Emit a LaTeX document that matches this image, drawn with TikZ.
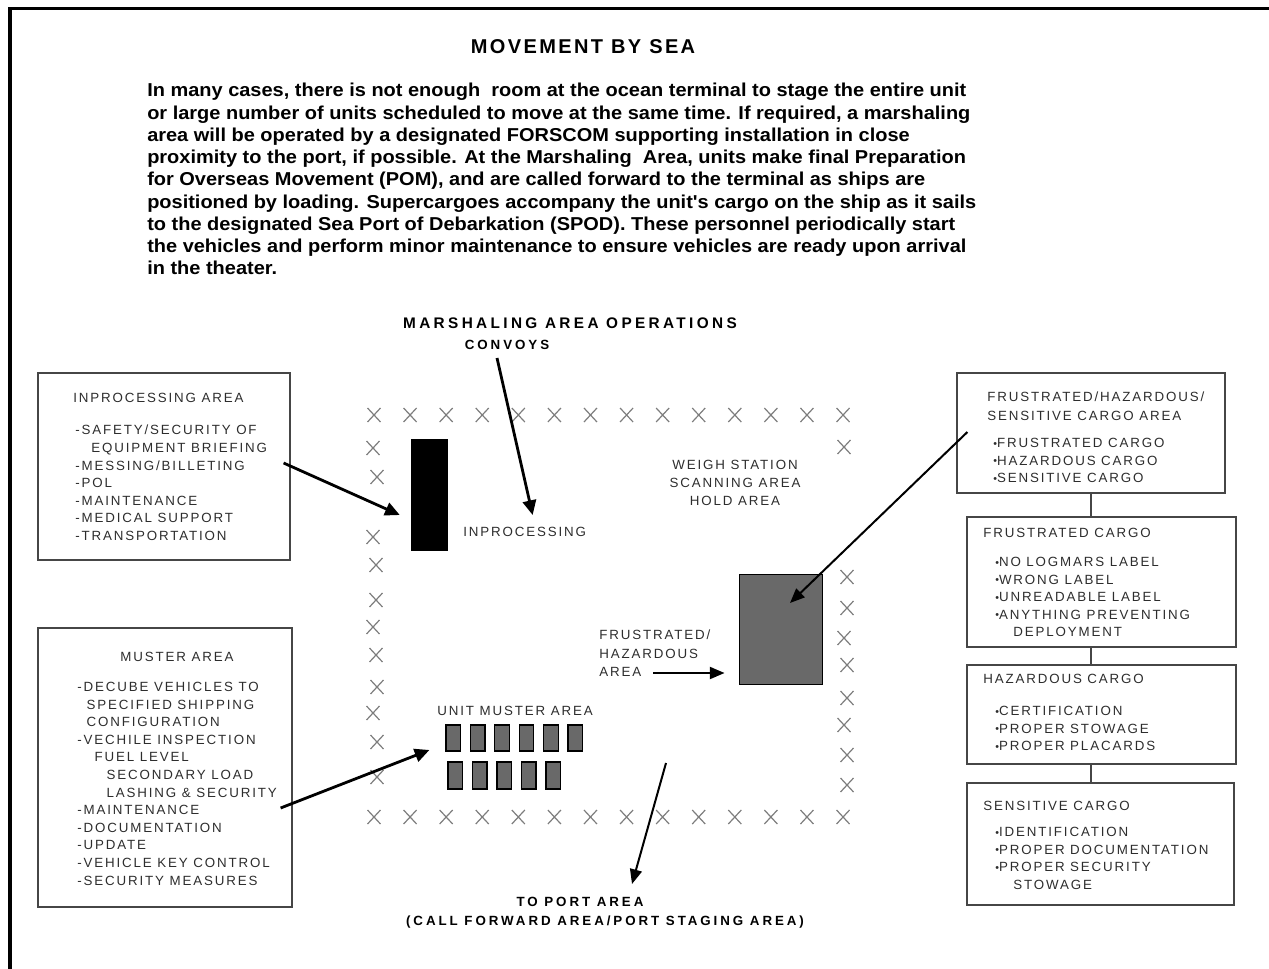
\documentclass[tikz,border=0pt]{standalone}
\usepackage{fontspec}
\setmainfont{Liberation Sans}
\newfontfamily\introfont[FakeStretch=1.07]{Liberation Sans}
\newfontfamily\labelfont[LetterSpace=14]{Liberation Sans}
\newfontfamily\headfont[LetterSpace=22]{Liberation Sans}
\newfontfamily\titlefont[LetterSpace=12]{Liberation Sans}
\usepackage{xcolor}
\definecolor{ink}{RGB}{45,45,45}
\definecolor{fencegray}{RGB}{125,125,125}
\definecolor{stipple}{RGB}{105,105,105}
\definecolor{rule}{RGB}{70,70,70}
\usetikzlibrary{calc,positioning,fit,arrows.meta}
\newcommand{\blt}{\raisebox{0.3pt}{\fontsize{8}{8}\selectfont\textbullet}}

\begin{document}
\begin{tikzpicture}[x=0.75pt,y=-0.75pt,
    areabox/.style={draw=rule, line width=0.9pt, inner sep=0pt},
    boxtext/.style={font=\labelfont\fontsize{10}{13.2}\selectfont, text=ink, inner sep=0pt, align=left},
    headtext/.style={font=\headfont\bfseries\fontsize{10}{13}\selectfont, inner sep=0pt, align=center},
    introtext/.style={font=\introfont\bfseries\fontsize{14}{16.7}\selectfont, inner sep=0pt, align=left},
    fence/.style={draw=fencegray, line width=0.9pt},
    fencex/.pic={\draw[fence] (-6.5,-7) -- (6.5,7) (-6.5,7) -- (6.5,-7);},
    stipplebox/.style={fill=stipple, draw=black, line width=0.7pt, inner sep=0pt},
    unitcar/.style={fill=stipple, draw=black, line width=0.9pt, inner sep=0pt},
    bigarrow/.style={-{Triangle[length=11pt,width=10pt]}, line width=2.1pt},
    thinarrow/.style={-{Triangle[length=11pt,width=9pt]}, line width=1.5pt},
    link/.style={draw=rule, line width=0.9pt}
  ]
  \useasboundingbox (0,0) rectangle (1269,969);
  \draw[line width=2.4pt] (10,969) -- (10,8.5) -- (1269,8.5);

  % heading and intro text
  \node[font=\titlefont\bfseries\fontsize{15}{17}\selectfont, inner sep=0pt] (title) at (583,47) {MOVEMENT BY SEA};
  \node[introtext, anchor=north west] (intro) at (147,83) {%
    In many cases, there is not enough \ room at the ocean terminal to stage the entire unit\\
    or large number of units scheduled to move at the same time. If required, a marshaling\\
    area will be operated by a designated FORSCOM supporting installation in close\\
    proximity to the port, if possible. At the Marshaling \ Area, units make final Preparation\\
    for Overseas Movement (POM), and are called forward to the terminal as ships are\\
    positioned by loading. Supercargoes accompany the unit's cargo on the ship as it sails\\
    to the designated Sea Port of Debarkation (SPOD). These personnel periodically start\\
    the vehicles and perform minor maintenance to ensure vehicles are ready upon arrival\\
    in the theater.};

  \node[headtext, font=\headfont\bfseries\fontsize{11.5}{14}\selectfont] (marsh) at (570,323) {MARSHALING AREA OPERATIONS};
  \node[headtext] (convoys) at (507,345) {CONVOYS};

  % left boxes
  \node[areabox, fit={(38,373) (290,560)}] (inprocbox) {};
  \node[boxtext, anchor=west] (inproctitle) at (73,398) {INPROCESSING AREA};
  \node[boxtext, anchor=north west] (inproclist) at (75,425) {-SAFETY/SECURITY OF\\
    \hspace*{12pt}EQUIPMENT BRIEFING\\-MESSING/BILLETING\\-POL\\-MAINTENANCE\\-MEDICAL SUPPORT\\-TRANSPORTATION};

  \node[areabox, fit={(38,628) (292,907)}] (musterbox) {};
  \node[boxtext] (mustertitle) at (177,657) {MUSTER AREA};
  \node[boxtext, anchor=north west] (musterlist) at (77,682) {-DECUBE VEHICLES TO\\
    \hspace*{7pt}SPECIFIED SHIPPING\\\hspace*{7pt}CONFIGURATION\\-VECHILE INSPECTION\\
    \hspace*{13pt}FUEL LEVEL\\\hspace*{22pt}SECONDARY LOAD\\\hspace*{22pt}LASHING \& SECURITY\\
    -MAINTENANCE\\-DOCUMENTATION\\-UPDATE\\-VEHICLE KEY CONTROL\\-SECURITY MEASURES};

  % right boxes
  \node[areabox, fit={(957,373) (1225,493)}] (cargobox) {};
  \node[areabox, fit={(967,517) (1236,647)}] (frusbox) {};
  \node[areabox, fit={(967,665) (1236,764)}] (hazbox) {};
  \node[areabox, fit={(967,783) (1234,905)}] (sensbox) {};
  \draw[link] (cargobox.south) -- (cargobox.south |- frusbox.north);
  \draw[link] (cargobox.south |- frusbox.south) -- (cargobox.south |- hazbox.north);
  \draw[link] (cargobox.south |- hazbox.south) -- (cargobox.south |- sensbox.north);

  \node[boxtext, anchor=north west] (cargotitle) at (987,392) {FRUSTRATED/HAZARDOUS/\\[1pt]SENSITIVE CARGO AREA};
  \node[boxtext, anchor=north west] (cargolist) at (993,438) {\blt FRUSTRATED CARGO\\\blt HAZARDOUS CARGO\\\blt SENSITIVE CARGO};
  \node[boxtext, anchor=west] (frustitle) at (983,533) {FRUSTRATED CARGO};
  \node[boxtext, anchor=north west] (fruslist) at (995,557) {\blt NO LOGMARS LABEL\\\blt WRONG LABEL\\\blt UNREADABLE LABEL\\
    \blt ANYTHING PREVENTING\\\hspace*{13.5pt}DEPLOYMENT};
  \node[boxtext, anchor=west] (haztitle) at (983,679) {HAZARDOUS CARGO};
  \node[boxtext, anchor=north west] (hazlist) at (995,706) {\blt CERTIFICATION\\\blt PROPER STOWAGE\\\blt PROPER PLACARDS};
  \node[boxtext, anchor=west] (senstitle) at (983,806) {SENSITIVE CARGO};
  \node[boxtext, anchor=north west] (senslist) at (995,827) {\blt IDENTIFICATION\\\blt PROPER DOCUMENTATION\\
    \blt PROPER SECURITY\\\hspace*{13.5pt}STOWAGE};

  % marshaling area fence
  \foreach \i in {0,...,13} {
    \pic at ({374+36.08*\i},415) {fencex};
    \pic at ({374+36.08*\i},817) {fencex};
  }
  \foreach \px/\py in {373/448,377/477,373/537,376/565,376/600,373/627,376/655,377/687,373/713,377/742,377/777}
    \pic at (\px,\py) {fencex};
  \foreach \px/\py in {844/447,847/577,847/608,844/638,847/665,847/698,844/725,847/755,847/785}
    \pic at (\px,\py) {fencex};

  % inside the area
  \node[fill=black, inner sep=0pt, fit={(411,439) (448,551)}] (procbar) {};
  \node[boxtext, anchor=west] (proclabel) at (463,532) {INPROCESSING};
  \node[boxtext, align=center, font=\labelfont\fontsize{10}{13.5}\selectfont] (weigh) at (735,483) {WEIGH STATION\\SCANNING AREA\\HOLD AREA};
  \node[stipplebox, fit={(739,574) (822,684)}] (frusarea) {};
  \node[boxtext, anchor=north west, font=\labelfont\fontsize{10}{13.8}\selectfont] (fruslabel) at (599,630) {FRUSTRATED/\\HAZARDOUS\\AREA};
  \coordinate (fruspoint) at (653,673);
  \node[boxtext] (unitlabel) at (515,711) {UNIT MUSTER AREA};
  \foreach \i in {0,...,5}
    \node[unitcar, fit={({446+24.4*\i},725) ({460.5+24.4*\i},751)}] (cara\i) {};
  \foreach \i in {0,...,4}
    \node[unitcar, fit={({448+24.5*\i},762) ({462.5+24.5*\i},789)}] (carb\i) {};

  \node[headtext] (portlabel) at (580,902) {TO PORT AREA};
  \node[headtext] (portnote) at (605,922) {(CALL FORWARD AREA/PORT STAGING AREA)};
  \coordinate (portstart) at (666,763);

  % arrows
  \draw[bigarrow] ($(convoys.south)+(-10,8)$) -- ($(proclabel.north)+(8,-12)$);
  \draw[bigarrow] ($(inprocbox.east)+(-7,-3.5)$) -- ($(procbar.west)+(-11,20)$);
  \draw[bigarrow] ($(musterbox.east)+(-12,40.5)$) -- ($(cara0.west)+(-16,12)$);
  \draw[thinarrow] ($(cargobox.west)+(11,-1)$) -- ($(frusarea.center)+(9.5,-26)$);
  \draw[thinarrow] (fruspoint) -- ($(frusarea.west)+(-14,44)$);
  \draw[thinarrow] (portstart) -- ($(portlabel.north)+(52,-13)$);
\end{tikzpicture}
\end{document}
